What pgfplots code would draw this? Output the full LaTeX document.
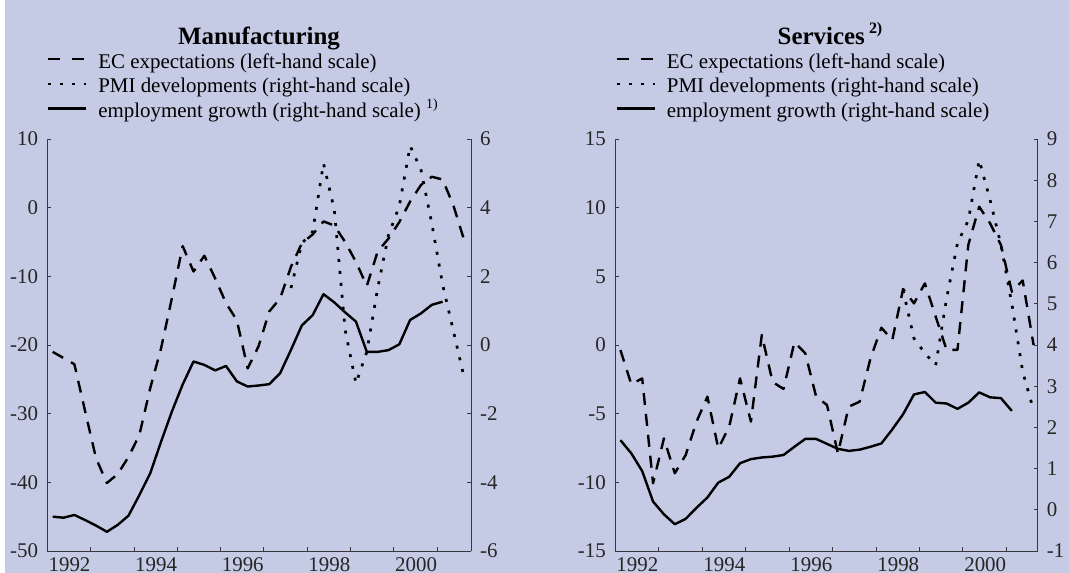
\documentclass[border=0pt]{standalone}
\usepackage{pgfplots}
\pgfplotsset{compat=1.18}
\usepackage{fontspec}
\setmainfont{Liberation Serif}
\definecolor{bg}{RGB}{197,202,229}
\definecolor{axc}{RGB}{55,55,60}
\newcommand\tf{\fontsize{21}{24}\selectfont}

\pgfplotstableread{
x y
1991.125 -21.0
1991.375 -21.9
1991.625 -22.8
1991.875 -29.7
1992.125 -36.5
1992.375 -40.1
1992.625 -38.8
1992.875 -36.3
1993.125 -33.1
1993.375 -26.3
1993.625 -20.5
1993.875 -13.2
1994.125 -5.6
1994.375 -9.3
1994.625 -7.0
1994.875 -10.3
1995.125 -13.9
1995.375 -16.4
1995.625 -23.4
1995.875 -20.2
1996.125 -15.1
1996.375 -13.2
1996.625 -8.6
1996.875 -5.2
1997.125 -3.9
1997.375 -2.0
1997.625 -2.6
1997.875 -5.0
1998.125 -7.9
1998.375 -11.4
1998.625 -6.4
1998.875 -4.5
1999.125 -2.1
1999.375 0.9
1999.625 3.3
1999.875 4.5
2000.125 4.1
2000.375 0.3
2000.625 -4.8
}\mecdata

\pgfplotstableread{
x y
1996.625 1.66
1996.875 2.96
1997.125 3.30
1997.375 5.29
1997.625 3.94
1997.875 0.44
1998.125 -1.12
1998.375 -0.20
1998.625 1.65
1998.875 3.20
1999.125 4.05
1999.375 5.80
1999.625 5.10
1999.875 3.54
2000.125 1.76
2000.375 0.40
2000.625 -0.97
}\mpmidata

\pgfplotstableread{
x y
1991.125 -5.00
1991.375 -5.03
1991.625 -4.95
1991.875 -5.10
1992.125 -5.26
1992.375 -5.44
1992.625 -5.24
1992.875 -4.97
1993.125 -4.37
1993.375 -3.74
1993.625 -2.82
1993.875 -1.94
1994.125 -1.15
1994.375 -0.48
1994.625 -0.58
1994.875 -0.74
1995.125 -0.61
1995.375 -1.06
1995.625 -1.21
1995.875 -1.18
1996.125 -1.14
1996.375 -0.82
1996.625 -0.14
1996.875 0.57
1997.125 0.87
1997.375 1.48
1997.625 1.24
1997.875 0.95
1998.125 0.68
1998.375 -0.20
1998.625 -0.20
1998.875 -0.15
1999.125 0.02
1999.375 0.73
1999.625 0.92
1999.875 1.17
2000.125 1.26
}\mempdata

\pgfplotstableread{
x y
1991.125 -0.37
1991.375 -2.86
1991.625 -2.43
1991.875 -10.07
1992.125 -6.80
1992.375 -9.34
1992.625 -8.01
1992.875 -5.58
1993.125 -3.76
1993.375 -7.53
1993.625 -5.95
1993.875 -2.43
1994.125 -5.58
1994.375 0.73
1994.625 -2.7
1994.875 -3.2
1995.125 0.2
1995.375 -0.6
1995.625 -3.76
1995.875 -4.37
1996.125 -7.89
1996.375 -4.49
1996.625 -4.13
1996.875 -0.97
1997.125 1.26
1997.375 0.36
1997.625 4.08
1997.875 3.03
1998.125 4.49
1998.375 2.06
1998.625 -0.36
1998.875 -0.36
1999.125 7.3
1999.375 10.07
1999.625 8.86
1999.875 7.28
2000.125 3.88
2000.375 4.7
2000.625 0.0
}\secdata

\pgfplotstableread{
x y
1997.625 5.33
1997.875 4.16
1998.125 3.80
1998.375 3.51
1998.625 5.13
1998.875 6.47
1999.125 7.03
1999.375 8.49
1999.625 7.52
1999.875 6.43
2000.125 5.00
2000.375 3.35
2000.625 2.42
}\spmidata

\pgfplotstableread{
x y
1991.125 1.69
1991.375 1.37
1991.625 0.94
1991.875 0.20
1992.125 -0.11
1992.375 -0.35
1992.625 -0.22
1992.875 0.05
1993.125 0.30
1993.375 0.66
1993.625 0.80
1993.875 1.13
1994.125 1.23
1994.375 1.27
1994.625 1.29
1994.875 1.33
1995.125 1.53
1995.375 1.72
1995.625 1.72
1995.875 1.60
1996.125 1.48
1996.375 1.43
1996.625 1.46
1996.875 1.53
1997.125 1.61
1997.375 1.95
1997.625 2.32
1997.875 2.80
1998.125 2.86
1998.375 2.60
1998.625 2.58
1998.875 2.45
1999.125 2.60
1999.375 2.85
1999.625 2.73
1999.875 2.71
2000.125 2.40
}\sempdata

\pgfplotsset{
  panel/.style={scale only axis, height=412bp, xmin=1991, xmax=2000.78,
    tick align=inside, major tick length=4bp,
    axis line style={axc, line width=0.8bp}, tick style={axc, line width=0.8bp},
    tick label style={font=\tf, text=black!85},
    /pgf/number format/assume math mode=true,
    xtick={1992,...,2000}, xticklabels={1992,,1994,,1996,,1998,,2000},
    xticklabel style={anchor=north east, inner xsep=0pt, inner ysep=0pt, yshift=-6.5bp},
  },
  lefty/.style={axis x line*=bottom, axis y line*=left,
    yticklabel style={inner xsep=0pt, xshift=-9bp}},
  righty/.style={axis x line=none, axis y line*=right,
    yticklabel style={inner xsep=0pt, xshift=9bp}},
  ec/.style={black, line width=2.4bp, line join=round, dash pattern=on 12bp off 9bp},
  pmi/.style={black, line width=2.7bp, dash pattern=on 3bp off 9bp},
  emp/.style={black, line width=2.4bp, line join=round},
  leg/.style={legend style={at={(axis description cs:#1,1.209)}, anchor=north west,
    draw=none, fill=none, font=\tf, inner sep=0pt, row sep=2.6bp, column sep=11bp,
    nodes={inner sep=0pt, text height=15bp, text depth=7bp}, cells={anchor=west}},
    legend image code/.code={\draw[##1] (0bp,4.8bp) -- (38bp,4.8bp);}},
}

\begin{document}
\begin{tikzpicture}
\useasboundingbox (0,0) rectangle (1069bp,573bp);
\fill[bg] (5bp,0) rectangle (1069bp,573bp);

\node[font=\bfseries\fontsize{25}{28}\selectfont, anchor=base] at (259bp,528bp) {Manufacturing};
\node[font=\bfseries\fontsize{25}{28}\selectfont, anchor=base] at (830bp,528bp) {Services\,\raisebox{0.45em}{\fontsize{16}{18}\selectfont 2)}};

% ---- Manufacturing ----
\begin{axis}[panel, lefty, at={(47.3bp,22bp)}, anchor=south west, width=423.7bp,
  ymin=-50, ymax=10, ytick={-50,-40,...,10}]
\addplot[ec] table[x=x,y=y] {\mecdata};
\end{axis}
\begin{axis}[panel, righty, at={(47.3bp,22bp)}, anchor=south west, width=423.7bp,
  ymin=-6, ymax=6, ytick={-6,-4,...,6}, leg=-0.002]
\addlegendimage{black, line width=2.4bp, dash pattern=on 12bp off 12bp}
\addlegendentry{EC expectations (left-hand scale)}
\addplot[pmi] table[x=x,y=y] {\mpmidata};
\addlegendentry{PMI developments (right-hand scale)}
\addplot[emp] table[x=x,y=y] {\mempdata};
\addlegendentry{employment growth (right-hand scale) \raisebox{0.4em}{\fontsize{14}{16}\selectfont 1)}}
\end{axis}

% ---- Services ----
\begin{axis}[panel, lefty, at={(615bp,22bp)}, anchor=south west, width=422.7bp,
  xmax=2000.72, ymin=-15, ymax=15, ytick={-15,-10,...,15}]
\addplot[ec] table[x=x,y=y] {\secdata};
\end{axis}
\begin{axis}[panel, righty, at={(615bp,22bp)}, anchor=south west, width=422.7bp,
  xmax=2000.72, ymin=-1, ymax=9, ytick={-1,0,...,9}, leg=0.0]
\addlegendimage{black, line width=2.4bp, dash pattern=on 12bp off 12bp}
\addlegendentry{EC expectations (left-hand scale)}
\addplot[pmi] table[x=x,y=y] {\spmidata};
\addlegendentry{PMI developments (right-hand scale)}
\addplot[emp] table[x=x,y=y] {\sempdata};
\addlegendentry{employment growth (right-hand scale)}
\end{axis}
\end{tikzpicture}
\end{document}
